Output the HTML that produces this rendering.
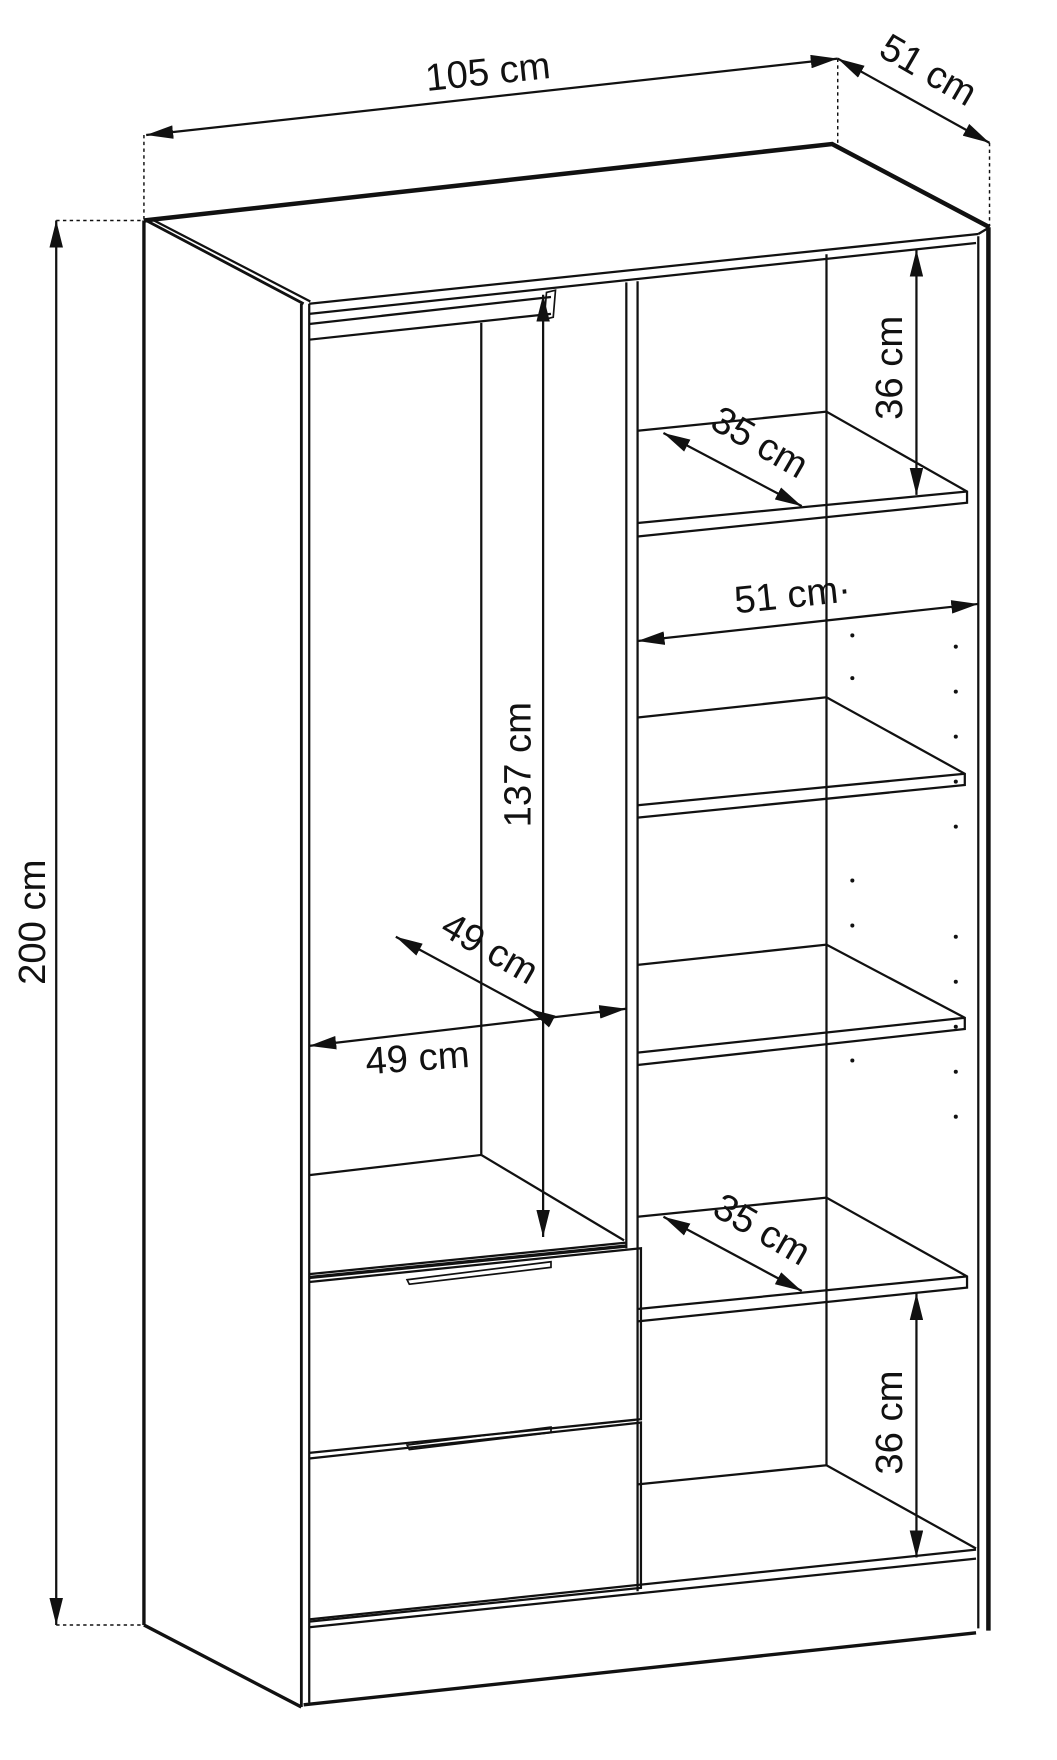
<!DOCTYPE html>
<html><head><meta charset="utf-8"><style>
html,body{margin:0;padding:0;background:#fff;}
svg{display:block;}
text{font-family:"Liberation Sans",Arial,sans-serif;font-size:34px;fill:#111;}
</style></head><body>
<svg width="1057" height="1760" viewBox="0 0 940 1565" xmlns="http://www.w3.org/2000/svg">
<defs>
<marker id="a" viewBox="0 0 24 12" refX="24" refY="6" markerWidth="24" markerHeight="12" markerUnits="userSpaceOnUse" orient="auto-start-reverse"><path d="M0,0 L24,6 L0,12 Z" fill="#111"/></marker>
</defs>
<g stroke="#111" fill="none" stroke-width="2">
<g stroke-dasharray="3,3" stroke-width="1.3">
<line x1="128" y1="120" x2="128" y2="195"/>
<line x1="745" y1="52" x2="745" y2="128"/>
<line x1="880" y1="127" x2="880" y2="200"/>
<line x1="50" y1="196" x2="128" y2="196"/>
<line x1="50" y1="1445" x2="128" y2="1445"/>
</g>
<line x1="130" y1="120" x2="745" y2="52" marker-start="url(#a)" marker-end="url(#a)"/>
<line x1="745" y1="52" x2="880" y2="127" marker-start="url(#a)" marker-end="url(#a)"/>
<line x1="50" y1="196" x2="50" y2="1445" marker-start="url(#a)" marker-end="url(#a)"/>

<path d="M128,196 L740,128 L880,202" stroke-width="4"/>
<line x1="130" y1="196" x2="270" y2="270" stroke-width="2.5"/>
<line x1="137" y1="196" x2="276" y2="268"/>
<line x1="275" y1="270" x2="870" y2="208"/>
<line x1="275" y1="279" x2="868" y2="216"/>
<line x1="870" y1="208" x2="880" y2="202"/>
<line x1="128" y1="196" x2="128" y2="1445" stroke-width="3"/>
<line x1="128" y1="1445" x2="268" y2="1518" stroke-width="3"/>
<line x1="268" y1="270" x2="268" y2="1518" stroke-width="2.5"/>
<line x1="275" y1="270" x2="275" y2="1514"/>
<line x1="870" y1="210" x2="870" y2="1448"/>
<line x1="879" y1="202" x2="879" y2="1450" stroke-width="4"/>
<line x1="270" y1="1516" x2="868" y2="1452" stroke-width="3"/>
<line x1="275" y1="1447" x2="868" y2="1386"/>
<line x1="275" y1="1440" x2="868" y2="1378"/>
<line x1="557" y1="251" x2="557" y2="1110"/>
<line x1="567" y1="250" x2="567" y2="1415"/>

<line x1="275" y1="288" x2="490" y2="264"/>
<line x1="275" y1="302" x2="490" y2="279"/>
<path d="M486,260 L494,258 L492,282 L484,284 Z" stroke-width="1.5"/>
<line x1="428" y1="287" x2="428" y2="1027"/>
<line x1="275" y1="1045" x2="428" y2="1027"/>
<line x1="428" y1="1027" x2="555" y2="1103"/>
<line x1="275" y1="1133" x2="557" y2="1105"/>
<line x1="483" y1="262" x2="483" y2="1100" marker-start="url(#a)" marker-end="url(#a)"/>
<line x1="275" y1="930" x2="557" y2="897" marker-start="url(#a)" marker-end="url(#a)"/>
<line x1="352" y1="833" x2="483" y2="904" marker-start="url(#a)"/>
<line x1="483" y1="904" x2="470" y2="897" marker-end="url(#a)"/>

<path d="M275,1140 L570,1110 L570,1262 L275,1292"/>
<path d="M275,1297 L570,1265 L570,1412 L275,1442"/>
<path d="M275,1136 L557,1108" stroke-width="3"/>
<path d="M362,1138 L490,1122 L490,1127 L364,1142 Z" stroke-width="1.5"/>
<path d="M362,1285 L490,1269 L490,1274 L364,1289 Z" stroke-width="1.5"/>

<line x1="735" y1="226" x2="735" y2="1303"/>
<path d="M567,383 L735,366 L860,437 L860,447 L567,477 M567,465 L860,437"/>
<path d="M567,638 L735,620 L858,688 L858,698 L567,727 M567,716 L858,688"/>
<path d="M567,858 L735,840 L858,905 L858,915 L567,947 M567,936 L858,905"/>
<path d="M567,1082 L735,1065 L860,1135 L860,1145 L567,1175 M567,1164 L860,1135"/>
<path d="M567,1320 L735,1303 L868,1377"/>
<line x1="815" y1="222" x2="815" y2="440" marker-start="url(#a)" marker-end="url(#a)"/>
<line x1="815" y1="1150" x2="815" y2="1385" marker-start="url(#a)" marker-end="url(#a)"/>
<line x1="590" y1="385" x2="713" y2="450" marker-start="url(#a)" marker-end="url(#a)"/>
<line x1="590" y1="1082" x2="713" y2="1148" marker-start="url(#a)" marker-end="url(#a)"/>
<line x1="567" y1="570" x2="870" y2="537" marker-start="url(#a)" marker-end="url(#a)"/>
</g>
<g fill="#111">
<circle cx="758" cy="565" r="1.8"/><circle cx="758" cy="603" r="1.8"/>
<circle cx="850" cy="575" r="1.8"/><circle cx="850" cy="615" r="1.8"/><circle cx="850" cy="655" r="1.8"/><circle cx="850" cy="695" r="1.8"/><circle cx="850" cy="735" r="1.8"/>
<circle cx="758" cy="783" r="1.8"/><circle cx="758" cy="823" r="1.8"/>
<circle cx="850" cy="833" r="1.8"/><circle cx="850" cy="873" r="1.8"/><circle cx="850" cy="913" r="1.8"/><circle cx="850" cy="953" r="1.8"/><circle cx="850" cy="993" r="1.8"/>
<circle cx="758" cy="943" r="1.8"/>
</g>
<text x="435" y="75" text-anchor="middle" transform="rotate(-6 435 75)">105 cm</text>
<text x="820" y="72" text-anchor="middle" transform="rotate(30 820 72)">51 cm</text>
<text x="40" y="820" text-anchor="middle" transform="rotate(-90 40 820)">200 cm</text>
<text x="472" y="680" text-anchor="middle" transform="rotate(-90 472 680)">137 cm</text>
<text x="430" y="853" text-anchor="middle" transform="rotate(30 430 853)">49 cm</text>
<text x="372" y="952" text-anchor="middle" transform="rotate(-4 372 952)">49 cm</text>
<text x="802" y="327" text-anchor="middle" transform="rotate(-90 802 327)">36 cm</text>
<text x="802" y="1265" text-anchor="middle" transform="rotate(-90 802 1265)">36 cm</text>
<text x="670" y="403" text-anchor="middle" transform="rotate(30 670 403)">35 cm</text>
<text x="672" y="1103" text-anchor="middle" transform="rotate(30 672 1103)">35 cm</text>
<text x="706" y="540" text-anchor="middle" transform="rotate(-6 706 540)">51 cm·</text>
</svg>
</body></html>
